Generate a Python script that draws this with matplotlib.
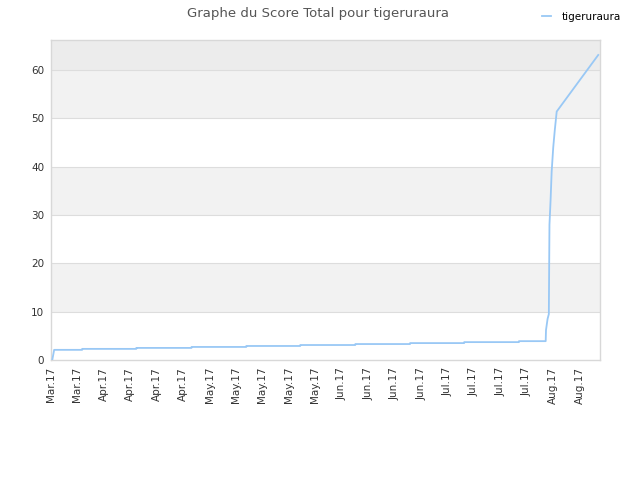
import matplotlib
matplotlib.use('Agg')
import matplotlib.pyplot as plt
import pandas as pd

# score history
dates = ['2017-03-22 08:00', '2017-03-22 20:00', '2017-03-30 06:00', '2017-03-30 06:00',
         '2017-04-13 14:00', '2017-04-13 14:00', '2017-04-28 05:00', '2017-04-28 05:00',
         '2017-05-12 17:00', '2017-05-12 17:00', '2017-05-27 00:00', '2017-05-27 00:00',
         '2017-06-10 14:00', '2017-06-10 14:00', '2017-06-25 02:00', '2017-06-25 02:00',
         '2017-07-09 10:00', '2017-07-09 10:00', '2017-07-23 22:00', '2017-07-23 22:00',
         '2017-07-31 00:00', '2017-07-31 02:00', '2017-07-31 12:00', '2017-07-31 20:00',
         '2017-08-01 00:00', '2017-08-01 07:00', '2017-08-01 14:00', '2017-08-02 00:00',
         '2017-08-02 10:00', '2017-08-02 22:00', '2017-08-13 22:00']
scores = [0.0, 2.1, 2.1, 2.3,
          2.3, 2.5, 2.5, 2.7,
          2.7, 2.9, 2.9, 3.1,
          3.1, 3.3, 3.3, 3.5,
          3.5, 3.7, 3.7, 3.9,
          3.9, 6.2, 8.5, 9.5,
          28.0, 33.0, 39.0, 44.0,
          47.6, 51.4, 63.1]

tick_dates = pd.date_range('2017-03-22', periods=21, freq='7D')
tick_labels = ['Mar.17', 'Mar.17', 'Apr.17', 'Apr.17', 'Apr.17', 'Apr.17',
               'May.17', 'May.17', 'May.17', 'May.17', 'May.17',
               'Jun.17', 'Jun.17', 'Jun.17', 'Jun.17',
               'Jul.17', 'Jul.17', 'Jul.17', 'Jul.17',
               'Aug.17', 'Aug.17']

x = pd.to_datetime(dates)

fig = plt.figure(figsize=(6.4, 4.8), dpi=100)
ax = fig.add_axes([0.0797, 0.25, 0.858, 0.6667])

ymax = 66.2
# alternating background bands
for lo, hi, c in [(10, 20, '#f2f2f2'), (30, 40, '#f2f2f2'), (50, 60, '#f2f2f2'), (60, ymax, '#ececec')]:
    ax.axhspan(lo, hi, color=c, zorder=0, lw=0)
for yv in range(10, 70, 10):
    ax.axhline(yv, color='#dddddd', lw=0.8, zorder=1)

ax.plot(x, scores, color='#99c8f5', lw=1.3, zorder=3, label='tigeruraura')

ax.set_xlim(pd.Timestamp('2017-03-22'), pd.Timestamp('2017-08-14 10:00'))
ax.set_ylim(0, ymax)
ax.set_yticks(range(0, 70, 10))
ax.set_xticks(tick_dates)
ax.set_xticklabels(tick_labels, rotation=90)
ax.tick_params(length=0, labelsize=7.5, colors='#333333', pad=5)
for s in ax.spines.values():
    s.set_color('#d8d8d8')
    s.set_linewidth(1)

fig.text(0.497, 0.986, 'Graphe du Score Total pour tigeruraura', ha='center', va='top',
         fontsize=9.5, color='#555555')
leg = fig.legend(loc='upper right', bbox_to_anchor=(0.985, 0.995), frameon=False,
                 fontsize=7.5, handlelength=0.9, handletextpad=1.0)

fig.savefig('out.png', dpi=100)
